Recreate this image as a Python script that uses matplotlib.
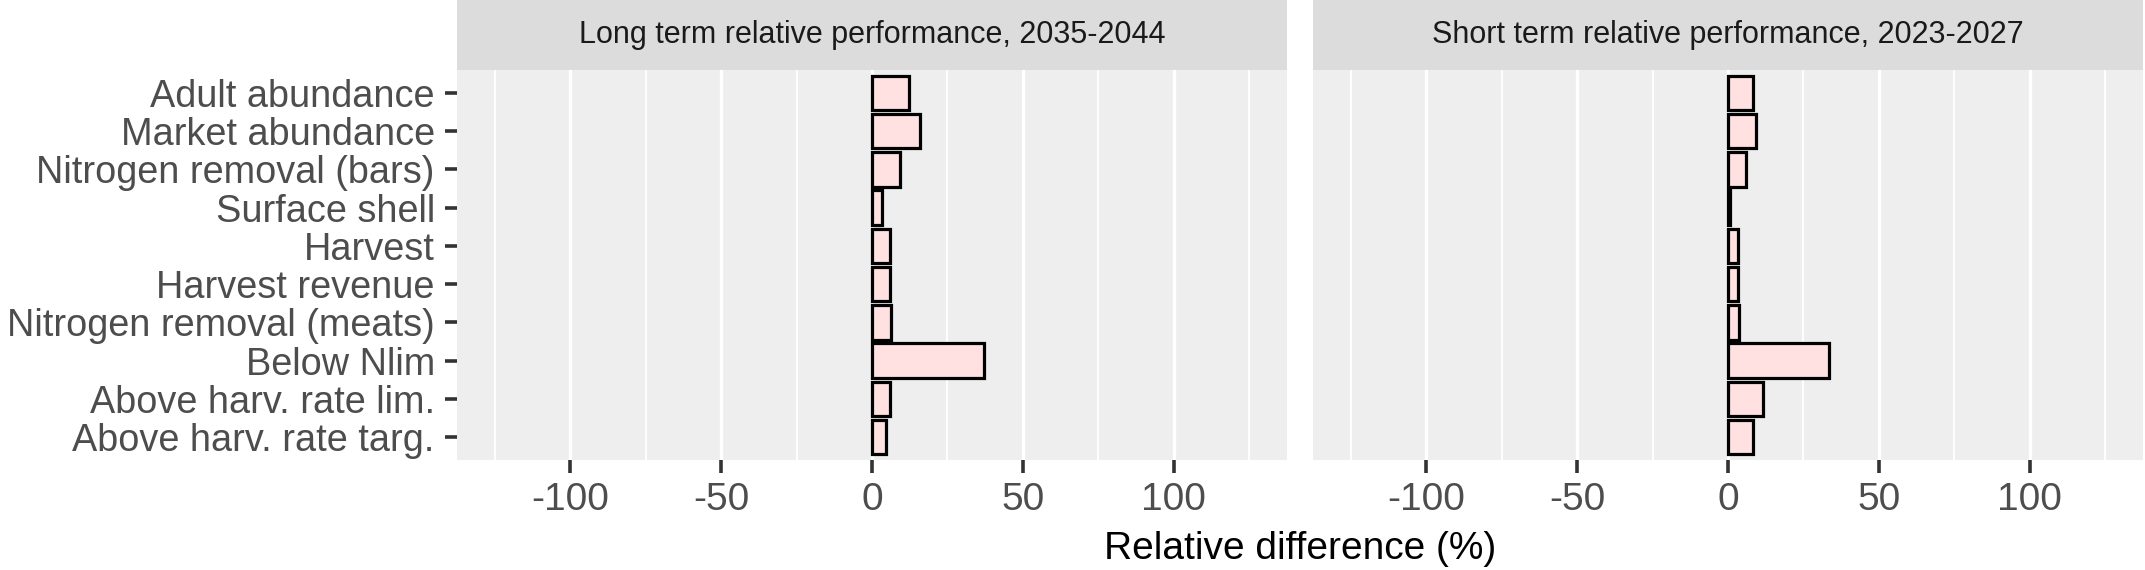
import numpy as np
import matplotlib.pyplot as plt
from matplotlib.patches import Rectangle

plt.rcParams['font.family'] = ['Liberation Sans', 'DejaVu Sans']

# Data
categories = ['Adult abundance', 'Market abundance', 'Nitrogen removal (bars)',
              'Surface shell', 'Harvest', 'Harvest revenue',
              'Nitrogen removal (meats)', 'Below Nlim',
              'Above harv. rate lim.', 'Above harv. rate targ.']
long_term = [12.1, 15.8, 9.4, 3.2, 6.0, 6.0, 6.3, 37.1, 5.8, 4.6]
short_term = [8.3, 9.2, 5.8, 0.6, 3.3, 3.3, 3.5, 33.6, 11.6, 8.3]
panel_titles = ['Long term relative performance, 2035-2044',
                'Short term relative performance, 2023-2027']
x_ticks = [-100, -50, 0, 50, 100]
x_minor = [-125, -75, -25, 25, 75, 125]

W, H = 2145, 570
fig = plt.figure(figsize=(W / 100, H / 100), dpi=100)

panel_bg = '#EEEEEE'
strip_bg = '#DCDCDC'
bar_fill = '#FFE1E1'

# panel positions in pixels: left, right ; top, bottom
panels_px = [(457, 1287), (1313, 2143)]
top_px, bot_px = 70, 460
strip_h = 70

ypos = np.arange(len(categories))

for i, (vals, title) in enumerate(zip([long_term, short_term], panel_titles)):
    x0, x1 = panels_px[i]
    ax = fig.add_axes([x0 / W, 1 - bot_px / H, (x1 - x0) / W, (bot_px - top_px) / H])
    ax.set_facecolor(panel_bg)
    for s in ax.spines.values():
        s.set_visible(False)

    ax.barh(ypos, vals, height=0.9, color=bar_fill, edgecolor='black',
            linewidth=2.3, zorder=3)

    ax.set_xlim(-137.5, 137.5)
    ax.set_ylim(len(categories) - 0.4, -0.6)
    ax.set_xticks(x_ticks)
    ax.set_xticklabels([str(t) for t in x_ticks])
    ax.set_xticks(x_minor, minor=True)
    ax.grid(True, axis='x', which='major', color='white', linewidth=2.4, zorder=0)
    ax.grid(True, axis='x', which='minor', color='white', linewidth=1.3, zorder=0)
    ax.set_axisbelow(True)
    ax.tick_params(axis='x', which='major', length=9.5, width=2.6, color='#333333',
                   labelsize=28, labelcolor='#4D4D4D', pad=6)
    ax.tick_params(axis='x', which='minor', length=0)

    if i == 0:
        ax.set_yticks(ypos)
        ax.set_yticklabels(categories)
        ax.tick_params(axis='y', length=8.5, width=2.6, color='#333333',
                       labelsize=27.3, labelcolor='#4D4D4D', pad=7.5)
    else:
        ax.set_yticks([])

    # facet strip
    ax.add_patch(Rectangle((0, 1), 1, strip_h / (bot_px - top_px),
                           transform=ax.transAxes, facecolor=strip_bg,
                           edgecolor='none', clip_on=False))
    ax.text(0.5, 1 + (strip_h / 2) / (bot_px - top_px), title,
            transform=ax.transAxes, ha='center', va='center',
            fontsize=22, color='#1A1A1A')

fig.text(1300 / W, 1 - 549 / H, 'Relative difference (%)', ha='center',
         va='center', fontsize=28, color='black')

fig.savefig('out.png', dpi=100, facecolor='white')
